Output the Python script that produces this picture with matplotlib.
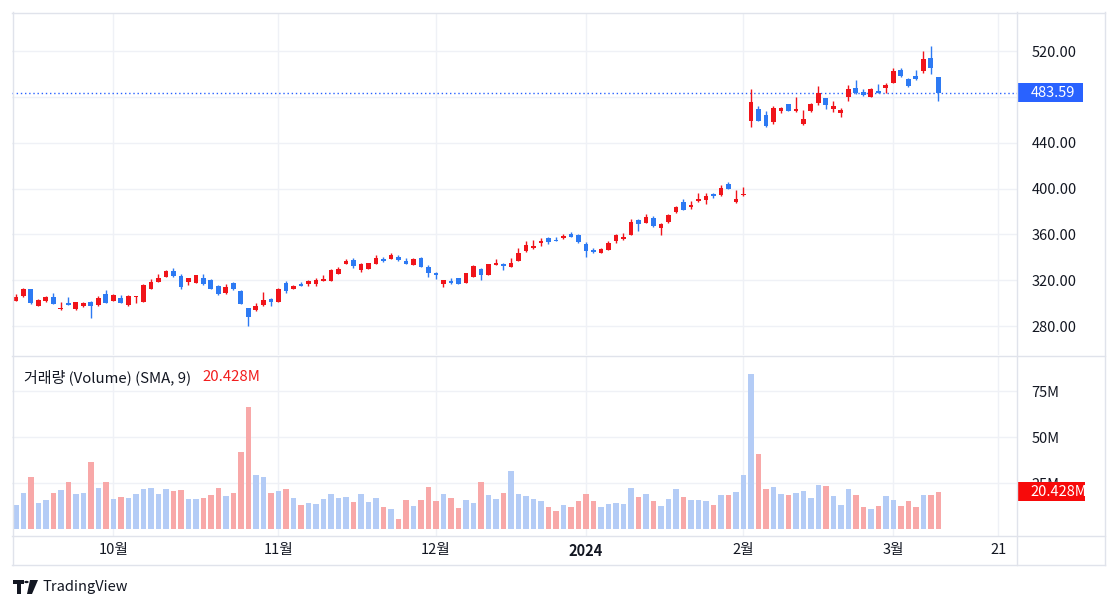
import numpy as np
import pandas as pd
import matplotlib
matplotlib.use("Agg")
import matplotlib.pyplot as plt
import matplotlib.transforms as mtrans
from matplotlib.patches import Rectangle, Polygon, Circle
from matplotlib.lines import Line2D

plt.rcParams['font.family'] = ['Noto Sans CJK KR', 'DejaVu Sans']

# trading days, Sep 13 2023 .. Mar 11 2024 (US market holidays removed)
holidays = ['2023-11-23', '2023-12-25', '2024-01-01', '2024-01-15', '2024-02-19']
days_all = pd.bdate_range('2023-09-13', '2024-03-29', freq='C', holidays=holidays)

open_ = [302.0, 306.4, 312.2, 297.7, 302.0, 305.5, 295.1, 300.0, 294.8, 297.4,
         301.2, 298.3, 307.8, 302.0, 304.3, 298.5, 305.2, 301.2, 312.5, 318.5,
         322.9, 328.1, 323.8, 318.5, 317.7, 321.7, 320.0, 315.1, 309.0, 317.4,
         310.4, 295.6, 293.9, 298.3, 303.5, 301.2, 317.4, 312.2, 316.5, 316.5,
         317.1, 319.4, 319.4, 325.8, 333.9, 338.0, 329.0, 329.9, 334.5, 338.8,
         338.8, 340.3, 336.5, 333.3, 339.7, 331.9, 326.1, 316.5, 319.1, 322.0,
         317.7, 323.2, 329.9, 324.6, 333.3, 333.9, 331.6, 336.8, 345.6, 348.0,
         352.3, 356.4, 355.2, 356.4, 360.2, 359.3, 351.4, 346.2, 343.9, 346.5,
         354.1, 355.8, 359.6, 372.4, 370.0, 374.1, 365.4, 370.9, 379.1, 388.1,
         384.0, 389.5, 390.1, 395.3, 394.5, 403.8, 388.4, 394.2, 459.0, 469.7,
         463.9, 458.1, 467.7, 473.5, 467.4, 456.1, 467.7, 474.4, 478.7, 469.7,
         466.2, 479.9, 488.0, 484.3, 479.9, 485.1, 487.5, 491.8, 503.4, 495.3,
         498.2, 502.3, 514.2, 497.3]
high = [307.8, 313.0, 312.5, 303.5, 306.4, 308.4, 300.6, 305.5, 300.6, 300.6,
        302.0, 306.4, 311.3, 307.8, 307.0, 307.0, 306.1, 317.0, 321.0, 325.2,
        328.7, 331.0, 325.2, 322.0, 324.1, 325.8, 320.6, 315.6, 317.1, 318.5,
        311.3, 296.0, 299.7, 309.3, 304.3, 313.0, 319.4, 316.0, 318.0, 320.3,
        322.3, 324.3, 329.6, 331.9, 338.3, 339.1, 335.0, 335.0, 341.7, 340.3,
        343.5, 342.0, 339.7, 339.4, 340.3, 333.0, 327.5, 320.0, 321.7, 322.3,
        326.4, 333.0, 331.0, 334.5, 338.5, 335.4, 339.1, 347.8, 354.3, 355.2,
        356.7, 357.3, 358.1, 359.9, 362.2, 360.0, 353.5, 348.0, 348.5, 354.3,
        360.2, 360.8, 373.2, 373.0, 377.9, 375.9, 369.5, 377.6, 384.9, 390.7,
        388.7, 396.5, 395.9, 396.5, 403.2, 406.1, 398.5, 401.4, 486.6, 472.0,
        467.7, 472.0, 471.2, 473.8, 479.9, 468.3, 474.4, 489.5, 479.0, 476.1,
        470.6, 490.1, 494.4, 486.6, 487.5, 490.9, 492.4, 505.5, 504.9, 496.2,
        503.4, 520.0, 524.4, 497.6]
low = [302.0, 305.5, 299.1, 297.7, 300.6, 299.4, 294.2, 298.5, 293.6, 296.8,
       287.0, 297.7, 300.0, 301.5, 300.0, 297.7, 300.3, 301.2, 312.5, 318.5,
       322.9, 322.9, 312.5, 316.0, 317.7, 315.6, 312.5, 307.0, 307.8, 311.6,
       299.4, 280.3, 293.0, 297.7, 297.7, 301.2, 309.0, 312.0, 315.0, 315.1,
       315.1, 319.4, 319.4, 325.8, 333.9, 331.0, 327.5, 329.9, 334.5, 336.2,
       338.8, 336.8, 334.5, 333.3, 331.9, 322.9, 320.9, 314.2, 316.5, 317.1,
       317.7, 323.2, 320.0, 324.6, 333.3, 329.0, 331.6, 336.8, 345.0, 347.5,
       350.0, 351.4, 354.0, 356.0, 357.3, 352.3, 339.8, 343.8, 343.3, 346.0,
       352.3, 355.2, 359.6, 363.1, 369.5, 366.8, 359.3, 370.3, 378.5, 381.0,
       382.0, 388.4, 386.3, 391.5, 393.6, 399.4, 387.2, 393.8, 453.7, 459.0,
       453.7, 456.1, 465.7, 467.5, 466.8, 455.2, 466.8, 472.9, 469.7, 466.8,
       462.5, 476.4, 482.8, 481.0, 479.9, 483.1, 483.7, 491.8, 497.3, 488.6,
       495.0, 501.1, 499.7, 476.4]
close = [305.5, 312.2, 300.0, 302.6, 305.5, 299.4, 295.6, 298.5, 300.6, 299.7,
         297.7, 304.3, 300.0, 306.9, 300.0, 306.1, 305.8, 316.0, 318.5, 322.3,
         327.8, 323.5, 314.2, 321.7, 324.1, 316.5, 312.5, 307.8, 313.9, 312.5,
         299.4, 288.1, 297.4, 302.6, 301.2, 312.2, 310.7, 315.1, 315.1, 319.4,
         320.0, 321.4, 329.0, 329.6, 336.8, 332.5, 334.5, 334.8, 339.7, 337.1,
         341.7, 337.7, 334.5, 338.8, 331.9, 326.1, 324.6, 320.0, 317.4, 317.1,
         326.4, 332.7, 324.6, 334.5, 335.1, 332.2, 334.8, 344.1, 350.6, 350.0,
         354.4, 352.9, 354.4, 358.7, 357.8, 353.5, 345.6, 344.2, 347.1, 352.3,
         359.3, 357.3, 370.9, 368.9, 375.0, 367.4, 368.9, 376.7, 384.0, 381.4,
         385.7, 390.7, 393.6, 393.6, 400.8, 399.7, 390.7, 395.0, 475.5, 459.0,
         454.6, 470.0, 470.0, 467.7, 469.1, 460.4, 473.5, 483.7, 472.9, 472.0,
         468.6, 486.6, 483.1, 481.4, 487.2, 483.7, 490.1, 502.6, 498.2, 489.5,
         495.3, 512.7, 504.9, 483.59]
volume = [13.2, 19.8, 28.4, 14.3, 15.9, 19.8, 21.4, 25.7, 19.2, 19.8,
          36.6, 22.5, 25.7, 16.5, 17.6, 17.0, 19.2, 21.9, 22.5, 19.2,
          21.9, 20.8, 21.4, 16.5, 16.5, 17.0, 18.7, 22.5, 18.1, 19.8,
          42.0, 66.5, 29.5, 28.4, 19.8, 20.8, 21.9, 17.0, 13.2, 14.3,
          13.8, 16.5, 19.2, 17.0, 17.6, 14.9, 19.2, 14.9, 17.0, 12.1,
          10.9, 5.6, 15.9, 12.7, 15.9, 23.0, 15.4, 19.2, 17.0, 11.6,
          15.9, 14.3, 25.7, 18.7, 16.5, 19.8, 31.7, 19.2, 18.1, 16.5,
          15.4, 12.1, 10.0, 13.2, 12.1, 15.4, 19.2, 15.4, 12.1, 13.8,
          14.3, 13.8, 22.5, 17.6, 19.2, 15.4, 12.7, 16.5, 21.9, 17.6,
          15.9, 15.9, 15.4, 13.2, 18.7, 18.7, 20.3, 29.5, 84.4, 41.0,
          21.9, 23.0, 19.2, 18.7, 19.8, 20.8, 17.0, 24.1, 23.6, 18.1,
          13.2, 21.9, 18.7, 12.1, 11.1, 12.7, 18.1, 15.9, 12.7, 15.4,
          12.1, 18.7, 18.7, 20.428]

price_ticks = [280, 320, 360, 400, 440, 480, 520]
vol_ticks = [25, 50, 75]

RED = '#F0141A'
BLUE = '#2D7AF3'
VRED = '#F8A8A8'
VBLUE = '#B4CCF6'
GRID = '#EFF1F6'
LINE = '#E0E3EB'
TXT = '#131722'

W, H = 1118, 609
fig = plt.figure(figsize=(W / 100, H / 100), dpi=100)

def box(x0, y0, x1, y1):
    return [x0 / W, 1 - y1 / H, (x1 - x0) / W, (y1 - y0) / H]

ax_p = fig.add_axes(box(12, 13, 1017, 355))
ax_v = fig.add_axes(box(12, 356, 1017, 536), sharex=ax_p)

o = np.array(open_); h = np.array(high); l = np.array(low); c = np.array(close)
x = np.arange(len(c))
up = c >= o
col = np.where(up, RED, BLUE)

ax_p.vlines(x, l, h, colors=col, lw=1, zorder=3)
ax_p.bar(x, np.maximum(np.abs(c - o), 0.7), bottom=np.minimum(o, c),
         width=0.66, color=col, linewidth=0, zorder=4)

ax_v.bar(x, volume, width=0.78, color=np.where(up, VBLUE, VRED), linewidth=0, zorder=3)

ax_p.set_xlim(-0.53, 133.47)
ax_p.set_ylim(254.7, 553.2)
ax_v.set_ylim(-3.6, 94.2)

# time axis ticks: first trading day of each month + the 21st of March
days = list(days_all)
tick_pos, tick_lab = [], []
for i in range(1, len(days)):
    if days[i].month != days[i - 1].month:
        tick_pos.append(i)
        tick_lab.append(str(days[i].year) if days[i].month == 1 else f'{days[i].month}월')
i21 = days.index(pd.Timestamp('2024-03-21'))
tick_pos.append(i21)
tick_lab.append('21')

for ax in (ax_p, ax_v):
    for s in ax.spines.values():
        s.set_visible(False)
    ax.set_facecolor('white')
    ax.yaxis.tick_right()
    ax.tick_params(axis='both', length=0, labelsize=10.5, labelcolor=TXT)
    ax.tick_params(axis='y', pad=10.5)
    ax.grid(True, color=GRID, lw=1, zorder=0)
    ax.set_axisbelow(True)

ax_p.set_yticks(price_ticks)
ax_p.set_yticklabels([f'{v:.2f}' if v != 480 else '' for v in price_ticks])
ax_v.set_yticks(vol_ticks)
ax_v.set_yticklabels([f'{v}M' for v in vol_ticks])

ax_v.set_xticks(tick_pos)
ax_v.set_xticklabels(tick_lab)
ax_v.tick_params(axis='x', pad=5)
ax_p.tick_params(labelbottom=False)
for t in ax_v.get_xticklabels():
    if t.get_text() == '2024':
        t.set_fontweight('bold')

# last price line and label
last = close[-1]
ax_p.axhline(last, color='#2962FF', ls=(0, (1, 2)), lw=1, zorder=2)
tp = mtrans.blended_transform_factory(ax_p.transAxes, ax_p.transData)
ax_p.add_patch(Rectangle((1.0, last - 8.3), 66 / 1005, 16.6, transform=tp,
                         facecolor='#2962FF', edgecolor='none', clip_on=False, zorder=10))
ax_p.text(1 + 14 / 1005, last, f'{last:.2f}', transform=tp, color='white',
          fontsize=10.5, va='center', ha='left', zorder=11, clip_on=False)

# last volume label
lv = volume[-1]
tv = mtrans.blended_transform_factory(ax_v.transAxes, ax_v.transData)
ax_v.add_patch(Rectangle((1.0, lv - 5.2), 68 / 1005, 10.3, transform=tv,
                         facecolor='#F70A0A', edgecolor='none', clip_on=False, zorder=10))
ax_v.text(1 + 13 / 1005, lv, f'{lv:.3f}M', transform=tv, color='white',
          fontsize=10.5, va='center', ha='left', zorder=11, clip_on=False)

ax_v.text(12 / 1005, 0.883, '거래량 (Volume) (SMA, 9)', transform=ax_v.transAxes,
          fontsize=10.8, color=TXT, va='center', ha='left')
ax_v.text(190 / 1005, 0.883, f'{lv:.3f}M', transform=ax_v.transAxes,
          fontsize=10.8, color='#F21E1E', va='center', ha='left')

# frame lines
def pline(x0, y0, x1, y1):
    fig.add_artist(Line2D([x0 / W, x1 / W], [1 - y0 / H, 1 - y1 / H],
                          color=LINE, lw=1, transform=fig.transFigure))

pline(12, 12.5, 1105, 12.5)
pline(12, 565, 1105, 565)
pline(12.5, 12, 12.5, 565)
pline(1105, 12, 1105, 565)
pline(1017, 12, 1017, 565)
pline(12, 355.5, 1105, 355.5)
pline(12, 536, 1105, 536)

# TradingView mark
def px(xp, yp):
    return (xp / W, 1 - yp / H)

fig.add_artist(Polygon([px(13, 580), px(24, 580), px(24, 584), px(21, 584), px(21, 594),
                        px(17, 594), px(17, 584), px(13, 584)], closed=True,
                       facecolor=TXT, edgecolor='none', transform=fig.transFigure))
fig.add_artist(Circle(px(26.5, 582), 2.2 / W, facecolor=TXT, edgecolor='none',
                      transform=fig.transFigure))
fig.add_artist(Polygon([px(30, 580), px(38, 580), px(32, 594), px(27, 594)], closed=True,
                       facecolor=TXT, edgecolor='none', transform=fig.transFigure))
fig.text(42 / W, 1 - 587 / H, 'TradingView', fontsize=10.5, color=TXT, va='center', ha='left')

fig.savefig('out.png', dpi=100, facecolor='white')
